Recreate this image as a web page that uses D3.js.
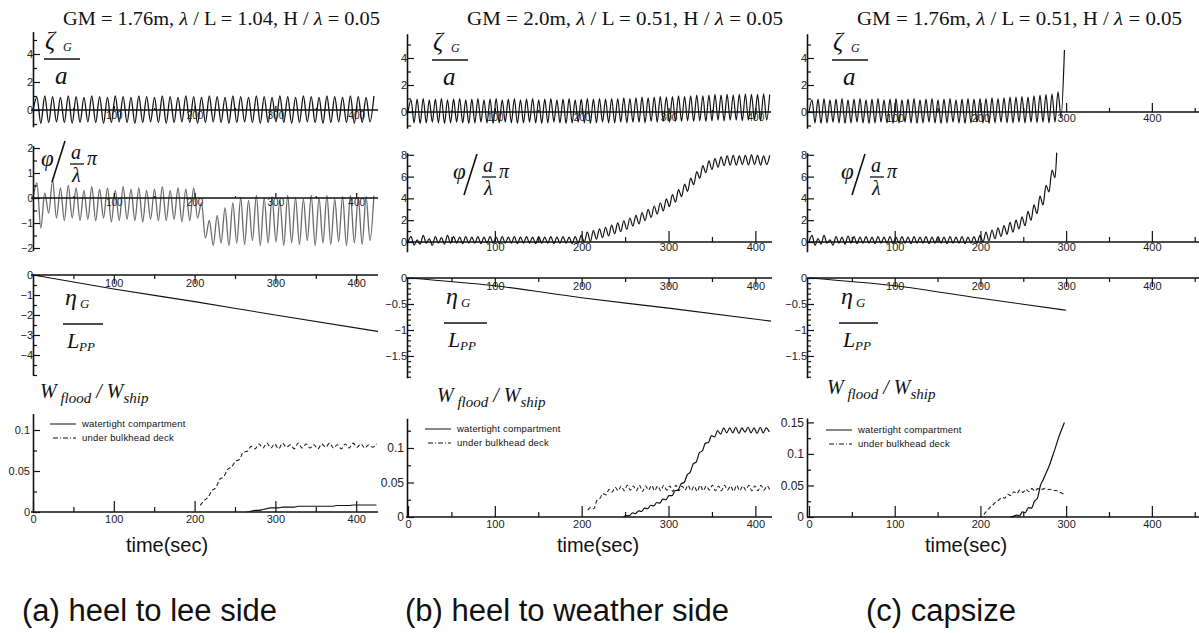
<!DOCTYPE html>
<html lang="en">
<head>
<meta charset="utf-8">
<title>Flooded ship motions in beam seas</title>
<script src="https://cdn.jsdelivr.net/npm/d3@7"></script>
<style>
  body { margin: 0; background: #fff; }
  svg { display: block; }
  .axis path, .axis line { stroke: #111; }
  .axis path { stroke-width: 1.6; }
  .axis line { stroke-width: 1.2; }
  .axis text { font-family: "Liberation Sans", Arial, sans-serif; fill: #222; }
  .math { font-family: "Liberation Serif", "Times New Roman", serif; font-style: italic; fill: #111; }
</style>
</head>
<body>
<script>
var w = 1199;
var h = 633;

// spacing between successive crests / troughs of the traces (sec)
var halfPeriodA = 4.85;
var halfPeriodB = 3.5;

// ---- (a) heel to lee side : crest / trough values from t = 0
var aHeave = [0,
  0.9,-0.95, 1.0,-0.9, 0.95,-0.85, 0.9,-0.9, 1.0,-0.95,
  0.95,-0.9, 0.9,-0.85, 1.0,-0.9, 0.95,-0.95, 0.9,-0.9,
  1.0,-0.85, 0.95,-0.9, 0.9,-0.95, 1.0,-0.9, 0.95,-0.85,
  0.9,-0.9, 1.0,-0.95, 0.95,-0.9, 0.9,-0.85, 1.0,-0.9,
  0.95,-0.95, 0.9,-0.9, 1.0,-0.85, 0.95,-0.9, 0.9,-0.95,
  1.0,-0.9, 0.95,-0.85, 0.9,-0.9, 1.0,-0.95, 0.95,-0.9,
  0.9,-0.85, 1.0,-0.9, 0.95,-0.95, 0.9,-0.9, 1.0,-0.85,
  0.95,-0.9, 0.9,-0.95, 1.0,-0.9, 0.95,-0.85, 0.9,-0.9,
  1.0,-0.95, 0.95,-0.9, 0.9,-0.85, 1.0];
var aRoll = [0,
  0.6,-1.2, 0.2,-0.6, 0.7,-0.8, 0.4,-0.9, 0.5,-0.8,
  0.4,-0.9, 0.3,-0.85, 0.45,-0.9, 0.35,-0.8, 0.4,-0.95,
  0.3,-0.9, 0.45,-0.85, 0.35,-0.9, 0.4,-0.95, 0.3,-0.85,
  0.35,-0.9, 0.45,-0.9, 0.3,-0.85, 0.4,-0.95, 0.35,-0.9,
  0.4,-0.8, -0.2,-1.6, -0.9,-1.9, -0.7,-1.8, -0.4,-1.9,
  -0.2,-1.8, 0.0,-1.85, -0.1,-1.7, 0.1,-1.9, 0.0,-1.8,
  0.05,-1.75, -0.1,-1.9, 0.1,-1.8, 0.0,-1.85, -0.05,-1.7,
  0.1,-1.9, 0.0,-1.8, 0.1,-1.85, -0.05,-1.75, 0.05,-1.9,
  0.1,-1.8, 0.0,-1.85, 0.05,-1.7, 0.1];
var aSurge = [[0, 0], [100, -0.7], [200, -1.33], [300, -2.0], [427, -2.82]];
var aTightStart = 265;
var aTight = [0, 0.001, 0.002, 0.002, 0.003, 0.004, 0.005, 0.005, 0.005, 0.006,
  0.006, 0.006, 0.006, 0.007, 0.007, 0.007, 0.007, 0.007, 0.007, 0.007,
  0.007, 0.007, 0.007, 0.008, 0.008, 0.008, 0.008, 0.0085, 0.0085, 0.0085,
  0.0085, 0.0085, 0.0085, 0.0085];
var aDeckStart = 207;
var aDeck = [0.008, 0.014, 0.018, 0.026, 0.03, 0.04, 0.043, 0.052, 0.055, 0.062,
  0.064, 0.073, 0.074, 0.08, 0.077, 0.083, 0.078,
  0.084, 0.078, 0.083, 0.077, 0.084, 0.079, 0.082, 0.077, 0.084, 0.078,
  0.083, 0.078, 0.082, 0.077, 0.083, 0.079, 0.084, 0.078, 0.082, 0.077,
  0.083, 0.078, 0.084, 0.079, 0.083, 0.078, 0.082, 0.079, 0.083];

// ---- (b) heel to weather side
var bHeave = [0,
  0.9,-0.8, 0.95,-0.85, 1.0,-0.8, 0.9,-0.75, 0.95,-0.8,
  1.0,-0.85, 0.9,-0.8, 0.95,-0.75, 1.0,-0.8, 0.9,-0.85,
  0.95,-0.8, 1.0,-0.75, 0.9,-0.8, 0.95,-0.85, 1.0,-0.8,
  0.9,-0.75, 0.95,-0.8, 1.0,-0.85, 0.9,-0.8, 0.95,-0.75,
  1.0,-0.8, 0.9,-0.85, 0.95,-0.8, 1.0,-0.75, 0.9,-0.8,
  0.95,-0.85, 1.0,-0.8, 0.9,-0.75, 0.95,-0.8, 1.0,-0.85,
  0.95,-0.8, 1.0,-0.75, 0.95,-0.8, 1.0,-0.8, 1.0,-0.75,
  1.05,-0.8, 1.0,-0.75, 1.05,-0.75, 1.1,-0.8, 1.05,-0.7,
  1.1,-0.75, 1.15,-0.7, 1.1,-0.75, 1.15,-0.7, 1.2,-0.7,
  1.15,-0.65, 1.2,-0.7, 1.25,-0.65, 1.2,-0.7, 1.25,-0.65,
  1.3,-0.6, 1.25,-0.65, 1.3,-0.6, 1.25,-0.6, 1.3,-0.65,
  1.35,-0.6, 1.3,-0.6, 1.3,-0.65, 1.35,-0.6, 1.3];
var bRoll = [0,
  0.5,-0.3, 0.2,-0.2, 0.6,-0.1, 0.3,-0.3, 0.5,-0.1,
  0.4,-0.2, 0.6,-0.1, 0.5,-0.1, 0.45,-0.15, 0.5,-0.1,
  0.45,-0.1, 0.5,-0.15, 0.45,-0.1, 0.5,-0.1, 0.45,-0.15,
  0.5,-0.1, 0.45,-0.1, 0.5,-0.15, 0.45,-0.1, 0.5,-0.1,
  0.45,-0.15, 0.5,-0.1, 0.45,-0.1, 0.5,-0.15, 0.45,-0.1,
  0.5,-0.1, 0.45,-0.15, 0.5,-0.1, 0.6,
  0.0, 0.9, 0.05, 1.05, 0.25, 1.2, 0.4, 1.35, 0.55, 1.55,
  0.75, 1.75, 0.95, 1.95, 1.15, 2.2, 1.45, 2.45, 1.65, 2.7,
  1.95, 3.0, 2.25, 3.3, 2.55, 3.6, 2.85, 3.95, 3.25, 4.35,
  3.65, 4.8, 4.15, 5.3, 4.65, 5.85, 5.25, 6.45, 5.85, 7.0,
  6.35, 7.45, 6.65, 7.65, 6.85, 7.8, 7.0, 7.9, 7.05,
  7.95, 7.05, 7.9, 7.1, 7.95, 7.05, 8.0, 7.1, 7.95, 7.05, 7.9, 7.1, 7.95];
var bSurge = [[0, 0], [100, -0.15], [200, -0.38], [300, -0.58], [418, -0.83]];
var bTightStart = 248;
var bTight = [0, 0.002, 0.002, 0.006, 0.005, 0.009, 0.008, 0.013, 0.012, 0.017,
  0.016, 0.021, 0.02, 0.026, 0.025, 0.031, 0.031, 0.038, 0.039, 0.048,
  0.05, 0.061, 0.065, 0.077, 0.08, 0.093, 0.096, 0.107, 0.108, 0.118,
  0.116, 0.125, 0.12, 0.129, 0.122,
  0.129, 0.122, 0.13, 0.121, 0.129, 0.123, 0.13, 0.122, 0.129, 0.121,
  0.13, 0.122, 0.129, 0.123];
var bDeckStart = 207;
var bDeck = [0.01, 0.014, 0.012, 0.024, 0.027, 0.034, 0.032, 0.04, 0.036, 0.043,
  0.038, 0.045,
  0.038, 0.046, 0.039, 0.045, 0.038, 0.046, 0.037, 0.045, 0.039, 0.046,
  0.038, 0.045, 0.038, 0.046, 0.039, 0.045, 0.037, 0.046, 0.038, 0.045,
  0.039, 0.046, 0.038, 0.045, 0.037, 0.046, 0.038, 0.045, 0.039, 0.046,
  0.038, 0.045, 0.038, 0.046, 0.039, 0.045, 0.037, 0.046, 0.038, 0.045,
  0.039, 0.046, 0.038, 0.045, 0.038, 0.046, 0.039, 0.045, 0.038];

// ---- (c) capsize
var cHeave = [0,
  0.9,-0.8, 0.95,-0.85, 1.0,-0.8, 0.9,-0.75, 0.95,-0.8,
  1.0,-0.85, 0.9,-0.8, 0.95,-0.75, 1.0,-0.8, 0.9,-0.85,
  0.95,-0.8, 1.0,-0.75, 0.9,-0.8, 0.95,-0.85, 1.0,-0.8,
  0.9,-0.75, 0.95,-0.8, 1.0,-0.85, 0.9,-0.8, 0.95,-0.75,
  1.0,-0.8, 0.9,-0.85, 0.95,-0.8, 1.0,-0.75, 0.9,-0.8,
  0.95,-0.85, 1.0,-0.8, 0.95,-0.75, 1.0,-0.8, 1.0,-0.85,
  1.05,-0.8, 1.0,-0.75, 1.05,-0.8, 1.1,-0.8, 1.1,-0.75,
  1.15,-0.8, 1.1,-0.75, 1.2,-0.8, 1.25,-0.75, 1.3,-0.8,
  1.35,-0.75, 1.5,-0.4];
var cHeaveEnd = [[298, 4.6]];
var cRoll = [0,
  0.6,-0.3, 0.3,-0.2, 0.6,-0.1, 0.2,-0.3, 0.5,-0.1,
  0.45,-0.2, 0.55,-0.1, 0.5,-0.15, 0.45,-0.1, 0.5,-0.1,
  0.45,-0.15, 0.5,-0.1, 0.45,-0.1, 0.5,-0.15, 0.45,-0.1,
  0.5,-0.1, 0.45,-0.15, 0.5,-0.1, 0.45,-0.1, 0.5,-0.15,
  0.45,-0.1, 0.5,-0.1, 0.45,-0.15, 0.5,-0.1, 0.45,-0.1,
  0.5,-0.15, 0.45,-0.1, 0.5,-0.1, 0.6,
  0.0, 0.9, 0.1, 1.1, 0.3, 1.3, 0.5, 1.5, 0.7, 1.8,
  0.9, 2.0, 1.2, 2.3, 1.5, 2.8, 2.0, 3.4, 2.6, 4.2,
  3.4, 5.2, 4.6, 6.6, 5.9];
var cRollEnd = [[289, 8.2]];
var cSurge = [[0, 0], [100, -0.15], [200, -0.39], [300, -0.62]];
var cTightStart = 235;
var cTight = [0, 0.001, 0.003, 0.002, 0.008, 0.007, 0.015, 0.014, 0.025, 0.03,
  0.05, 0.06, 0.071, 0.082, 0.096, 0.11, 0.125, 0.138, 0.15];
var cDeckStart = 204;
var cDeck = [0.004, 0.01, 0.015, 0.019, 0.024, 0.027, 0.031, 0.03, 0.036, 0.034,
  0.04, 0.037, 0.043, 0.039, 0.044, 0.04, 0.045, 0.041, 0.045, 0.043,
  0.045, 0.043, 0.044, 0.042, 0.042, 0.04, 0.038, 0.035];

// ---- ticks and texts
var timeMajor = [100, 200, 300, 400];
var timeMajorZero = [0, 100, 200, 300, 400];
var timeMinor = [50, 150, 250, 350, 450];
var heaveMajor = [0, 2, 4];
var heaveMinor = [-1, 1, 3, 5];
var rollMajorA = [-2, -1, 0, 1, 2];
var rollMinorA = [-1.5, -0.5, 0.5, 1.5];
var rollMajor = [0, 2, 4, 6, 8];
var rollMinor = [1, 3, 5, 7];
var surgeMajorA = [0, -1, -2, -3, -4];
var surgeMinorA = [-0.5, -1.5, -2.5, -3.5, -4.5, -5];
var surgeMajor = [0, -0.5, -1, -1.5];
var surgeMinor = [-0.1, -0.2, -0.3, -0.4, -0.6, -0.7, -0.8, -0.9, -1.1, -1.2, -1.3, -1.4, -1.6, -1.7, -1.8, -1.9];
var floodMajorA = [0, 0.05, 0.1];
var floodMajor = [0, 0.05, 0.1, 0.15];
var floodMinorA = [0.025, 0.075];
var floodMinor = [0.025, 0.075, 0.125];
var gmText = ["1.76m", "2.0m", "1.76m"];
var wlText = ["1.04", "0.51", "0.51"];
var captions = ["(a) heel to lee side", "(b) heel to weather side", "(c) capsize"];
var legendNames = ["watertight compartment", "under bulkhead deck"];

var svg = d3.select("body").append("svg")
            .attr("width", w)
            .attr("height", h);

var series = function (values, t0, dt) {
  return values.map(function (v, i) { return [t0 + i * dt, v]; });
};

function drawLine(data, x, y, color, width, dash) {
  var tMax = x.domain()[1];
  svg.append("path")
     .datum(data.filter(function (d) { return d[0] <= tMax; }))
     .attr("d", d3.line()
                  .x(function (d) { return x(d[0]); })
                  .y(function (d) { return y(d[1]); })
                  .curve(d3.curveMonotoneX))
     .attr("fill", "none")
     .attr("stroke", color)
     .attr("stroke-width", width)
     .attr("stroke-linejoin", "round")
     .attr("stroke-dasharray", dash || null);
}

function leftAxis(y, x0, majors, minors, fmt, fs, pad) {
  svg.append("g").attr("class", "axis")
     .attr("transform", "translate(" + x0 + ",0)")
     .call(d3.axisLeft(y).tickValues(minors).tickSizeInner(-4).tickSizeOuter(0).tickFormat(""));
  var g = svg.append("g").attr("class", "axis")
     .attr("transform", "translate(" + x0 + ",0)")
     .call(d3.axisLeft(y).tickValues(majors).tickSizeInner(-7).tickSizeOuter(0)
             .tickPadding(pad || 0).tickFormat(fmt));
  g.select(".domain").remove();
  g.selectAll("text").attr("font-size", fs).attr("fill", "#222");
}

function bottomAxis(x, y0, x1, majors, minors, bigTick, smallTick, pad, fs) {
  var tMax = x.domain()[1];
  var inside = function (arr) { return arr.filter(function (t) { return t <= tMax; }); };
  svg.append("line").attr("x1", x.range()[0] - 2).attr("x2", x1)
     .attr("y1", y0).attr("y2", y0)
     .attr("stroke", "#111").attr("stroke-width", 1.6);
  var g1 = svg.append("g").attr("class", "axis")
     .attr("transform", "translate(0," + y0 + ")")
     .call(d3.axisBottom(x).tickValues(inside(minors)).tickSizeInner(smallTick).tickSizeOuter(0).tickFormat(""));
  g1.select(".domain").remove();
  var g2 = svg.append("g").attr("class", "axis")
     .attr("transform", "translate(0," + y0 + ")")
     .call(d3.axisBottom(x).tickValues(inside(majors)).tickSizeInner(bigTick).tickSizeOuter(0)
             .tickPadding(pad).tickFormat(d3.format("d")));
  g2.select(".domain").remove();
  g2.selectAll("text").attr("font-size", fs).attr("fill", "#222");
}

function mathText(x, y, size, txt) {
  return svg.append("text").attr("class", "math")
            .attr("x", x).attr("y", y).attr("font-size", size).text(txt);
}

function bar(x1, x2, y) {
  svg.append("line").attr("x1", x1).attr("x2", x2).attr("y1", y).attr("y2", y)
     .attr("stroke", "#111").attr("stroke-width", 1.3);
}

function heaveLabel(xb, yb) {
  mathText(xb + 1, yb - 10, 25, "ζ");
  mathText(xb + 19, yb - 8, 12, "G").attr("fill", "#444");
  bar(xb, xb + 36, yb);
  mathText(xb + 11, yb + 25, 25, "a");
}

function rollLabel(xb, yb) {
  mathText(xb - 29, yb + 2, 23, "φ");
  svg.append("line").attr("x1", xb - 18).attr("y1", yb + 18).attr("x2", xb - 5).attr("y2", yb - 23)
     .attr("stroke", "#111").attr("stroke-width", 1.6);
  mathText(xb + 1, yb - 5, 20, "a");
  bar(xb, xb + 14, yb);
  mathText(xb + 2, yb + 18, 20, "λ");
  mathText(xb + 17, yb + 1, 20, "π");
}

function surgeLabel(xb, yb, len) {
  mathText(xb + 2, yb - 19, 24, "η");
  mathText(xb + 17, yb - 16, 13, "G");
  bar(xb, xb + len, yb);
  mathText(xb + 4, yb + 24, 22, "L");
  mathText(xb + 16, yb + 27, 13, "PP");
}

function floodLabel(x, y) {
  var t = svg.append("text").attr("class", "math").attr("x", x).attr("y", y).attr("font-size", 20);
  t.append("tspan").text("W");
  t.append("tspan").attr("dy", 5).attr("font-size", 15).text(" flood");
  t.append("tspan").attr("dy", -5).text(" / W");
  t.append("tspan").attr("dy", 5).attr("font-size", 15).text("ship");
}

function legend(x, y) {
  svg.append("line").attr("x1", x).attr("x2", x + 26).attr("y1", y).attr("y2", y)
     .attr("stroke", "#111").attr("stroke-width", 1);
  svg.append("line").attr("x1", x + 3).attr("x2", x + 26).attr("y1", y + 14).attr("y2", y + 14)
     .attr("stroke", "#111").attr("stroke-width", 1).attr("stroke-dasharray", "5,2,1,2");
  legendNames.forEach(function (name, i) {
    svg.append("text").attr("x", x + 32).attr("y", y + 3 + i * 14)
       .attr("font-family", "Liberation Sans, Arial, sans-serif")
       .attr("font-size", 9.5).attr("letter-spacing", 0.2).attr("fill", "#111")
       .text(name);
  });
}

function title(i, x, x2, y) {
  var t = svg.append("text").attr("x", x).attr("y", y)
     .attr("font-family", "Liberation Serif, 'Times New Roman', serif")
     .attr("font-size", 19).attr("fill", "#111")
     .attr("textLength", x2 - x).attr("lengthAdjust", "spacingAndGlyphs");
  t.append("tspan").text("GM = " + gmText[i] + ", ");
  t.append("tspan").attr("font-style", "italic").text("λ");
  t.append("tspan").text(" / L = " + wlText[i] + ", H / ");
  t.append("tspan").attr("font-style", "italic").text("λ");
  t.append("tspan").text(" = 0.05");
}

var fmtNum = function (d) { return d3.format("~g")(d); };

// ================= panel (a)
var xA = d3.scaleLinear().domain([0, 427]).range([33, 378]);
var yAh = d3.scaleLinear().domain([-1.2, 5.6]).range([126.8, 31.6]);
var yAr = d3.scaleLinear().domain([-2.1, 2.1]).range([250.5, 145.5]);
var yAs = d3.scaleLinear().domain([-5, 0]).range([375, 275]);
var yAf = d3.scaleLinear().domain([0, 0.12]).range([512, 413.6]);

drawLine(series(aHeave, 0, halfPeriodA), xA, yAh, "#111", 1.3);
drawLine(series(aRoll, 0, halfPeriodA), xA, yAr, "#6a6a6a", 1.3);
drawLine(aSurge, xA, yAs, "#111", 1.1);
drawLine(series(aDeck, aDeckStart, halfPeriodA), xA, yAf, "#222", 1.1, "4,2.5");
drawLine(series(aTight, aTightStart, halfPeriodA), xA, yAf, "#111", 1.1);

bottomAxis(xA, yAh(0), 378, timeMajor, timeMinor, -4, -2, 2, 10);
bottomAxis(xA, yAr(0), 378, timeMajor, timeMinor, -5, -2, 1, 10);
bottomAxis(xA, yAs(0), 378, timeMajor, timeMinor, 9, 4, -5, 11);
bottomAxis(xA, yAf(0), 378, timeMajorZero, timeMinor, -11, -5, 3, 11);
leftAxis(yAh, 33, heaveMajor, heaveMinor, fmtNum, 11);
leftAxis(yAr, 33, rollMajorA, rollMinorA, fmtNum, 10);
leftAxis(yAs, 33, surgeMajorA, surgeMinorA, fmtNum, 11);
leftAxis(yAf, 33, floodMajorA, floodMinorA, fmtNum, 11, 3);

heaveLabel(44, 59);
rollLabel(70, 164);
surgeLabel(63, 324, 40);
floodLabel(40, 398);
legend(50, 424);

// ================= panel (b)
var xB = d3.scaleLinear().domain([0, 418]).range([408, 771]);
var yBh = d3.scaleLinear().domain([-1.2, 5.8]).range([128.2, 33.7]);
var yBr = d3.scaleLinear().domain([-0.9, 8.2]).range([251.8, 152.6]);
var yBs = d3.scaleLinear().domain([-1.92, 0]).range([377.8, 278]);
var yBf = d3.scaleLinear().domain([0, 0.143]).range([517, 418.3]);

drawLine(series(bHeave, 0, halfPeriodB), xB, yBh, "#111", 1.2);
drawLine(series(bRoll, 0, halfPeriodB), xB, yBr, "#111", 1.2);
drawLine(bSurge, xB, yBs, "#111", 1.1);
drawLine(series(bDeck, bDeckStart, halfPeriodB), xB, yBf, "#222", 1.1, "4,2.5");
drawLine(series(bTight, bTightStart, halfPeriodB), xB, yBf, "#111", 1.2);

bottomAxis(xB, yBh(0), 771, timeMajor, timeMinor, -4, -2, 2, 10);
bottomAxis(xB, yBr(0), 772, timeMajor, timeMinor, -11, -5, 1, 11);
bottomAxis(xB, yBs(0), 772, timeMajor, timeMinor, 9, 4, -5, 11);
bottomAxis(xB, yBf(0), 772, timeMajorZero, timeMinor, -11, -5, 3, 11);
leftAxis(yBh, 407, heaveMajor, heaveMinor, fmtNum, 11);
leftAxis(yBr, 407, rollMajor, rollMinor, fmtNum, 11);
leftAxis(yBs, 407, surgeMajor, surgeMinor, fmtNum, 11);
leftAxis(yBf, 407, floodMajorA, floodMinor, fmtNum, 12, 3);

heaveLabel(432, 60);
rollLabel(482, 177);
surgeLabel(444, 323, 43);
floodLabel(437, 402);
legend(425, 429);

// ================= panel (c)
var xC = d3.scaleLinear().domain([0, 455]).range([809, 1199]);
var yCh = d3.scaleLinear().domain([-1.2, 5.8]).range([128.2, 33.7]);
var yCr = d3.scaleLinear().domain([-0.9, 8.2]).range([251.8, 152.6]);
var yCs = d3.scaleLinear().domain([-1.92, 0]).range([377.8, 278]);
var yCf = d3.scaleLinear().domain([0, 0.157]).range([517, 418]);

drawLine(series(cHeave, 0, halfPeriodB).concat(cHeaveEnd), xC, yCh, "#111", 1.2);
drawLine(series(cRoll, 0, halfPeriodB).concat(cRollEnd), xC, yCr, "#111", 1.2);
drawLine(cSurge, xC, yCs, "#111", 1.1);
drawLine(series(cDeck, cDeckStart, halfPeriodB), xC, yCf, "#222", 1.1, "4,2.5");
drawLine(series(cTight, cTightStart, halfPeriodB), xC, yCf, "#111", 1.2);

bottomAxis(xC, yCh(0), 1199, timeMajor, timeMinor, -9, -4, 2, 11);
bottomAxis(xC, yCr(0), 1199, timeMajor, timeMinor, -11, -5, 1, 11);
bottomAxis(xC, yCs(0), 1199, timeMajor, timeMinor, 9, 4, -5, 11);
bottomAxis(xC, yCf(0), 1199, timeMajorZero, timeMinor, -11, -5, 3, 11);
leftAxis(yCh, 807, heaveMajor, heaveMinor, fmtNum, 11);
leftAxis(yCr, 807, rollMajor, rollMinor, fmtNum, 11);
leftAxis(yCs, 807, surgeMajor, surgeMinor, fmtNum, 11);
leftAxis(yCf, 807, floodMajor, floodMinor, fmtNum, 12, 3);

heaveLabel(832, 60);
rollLabel(870, 177);
surgeLabel(839, 323, 39);
floodLabel(827, 394);
legend(826, 430);

// ================= titles and captions
title(0, 63, 380, 25);
title(1, 467, 783, 25);
title(2, 857, 1182, 25);

[167, 598, 966].forEach(function (cx) {
  svg.append("text").attr("x", cx).attr("y", 552).attr("text-anchor", "middle")
     .attr("font-family", "Liberation Sans, Arial, sans-serif")
     .attr("font-size", 20).attr("fill", "#111").text("time(sec)");
});

[22, 405, 866].forEach(function (cx, i) {
  svg.append("text").attr("x", cx).attr("y", 621)
     .attr("font-family", "Liberation Sans, Arial, sans-serif")
     .attr("font-size", 31).attr("fill", "#111").text(captions[i]);
});
</script>
</body>
</html>
